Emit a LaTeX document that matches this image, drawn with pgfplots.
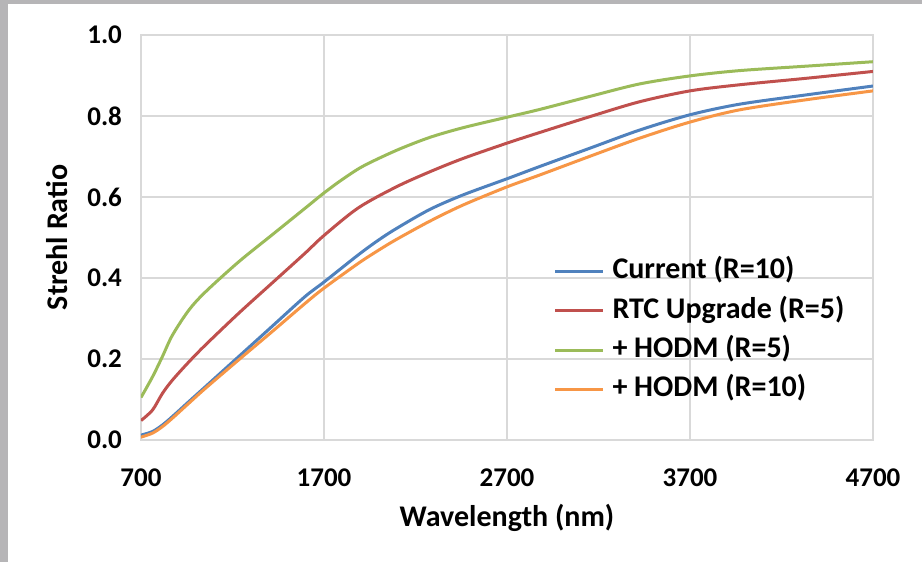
\documentclass[border=0pt]{standalone}
\usepackage{fontspec}
\setmainfont{Carlito}
\usepackage{pgfplots}
\pgfplotsset{compat=1.18}
\definecolor{xlblue}{RGB}{79,129,189}
\definecolor{xlred}{RGB}{192,80,77}
\definecolor{xlgreen}{RGB}{155,187,89}
\definecolor{xlorange}{RGB}{247,150,70}
\definecolor{gridgray}{RGB}{217,217,217}
\definecolor{framegray}{RGB}{182,181,183}

\begin{document}
\begin{tikzpicture}
% frame around the chart
\fill[framegray] (0,0) rectangle (461pt,281pt);
\fill[white] (4pt,0) rectangle (461pt,279pt);

\begin{axis}[
    at={(70.5pt,61pt)}, anchor=south west,
    scale only axis,
    width=366pt, height=202.5pt,
    xmin=700, xmax=4700,
    ymin=0, ymax=1,
    xtick={700,1700,2700,3700,4700},
    ytick={0,0.2,0.4,0.6,0.8,1.0},
    grid=major,
    grid style={gridgray, line width=0.75pt},
    axis line style={gridgray, line width=0.75pt},
    major tick length=0pt,
    tick style={draw=none},
    /pgf/number format/assume math mode=true,
    xticklabel style={font=\fontsize{13.5}{15}\selectfont\bfseries, anchor=center, yshift=-19pt,
        /pgf/number format/1000 sep={}},
    yticklabel style={font=\fontsize{13.5}{15}\selectfont\bfseries, anchor=east, xshift=-6pt,
        /pgf/number format/fixed, /pgf/number format/fixed zerofill, /pgf/number format/precision=1},
    xlabel={Wavelength (nm)},
    ylabel={Strehl Ratio},
    xlabel style={font=\fontsize{15}{17}\selectfont\bfseries, at={(axis description cs:0.5,-0.193)}, anchor=center},
    ylabel style={font=\fontsize{15}{17}\selectfont\bfseries, at={(axis description cs:-0.115,0.5)}, anchor=center},
    legend style={
        at={(0.563,0.456)}, anchor=north west,
        draw=none, fill=none, inner sep=0pt,
        font=\fontsize{15}{17}\selectfont\bfseries,
        nodes={inner sep=1pt, text height=10.5pt, text depth=3pt},
        row sep=4.2pt,
        /tikz/every odd column/.append style={column sep=3pt},
    },
    legend cell align=left,
    legend image code/.code={\draw[#1, line width=1.5pt] (0pt,0pt) -- (24pt,0pt);},
    every axis plot/.append style={line width=1.5pt, smooth},
]

% Current (R=10)
\addplot[xlblue] coordinates {
    (700,0.012) (763,0.021) (817,0.037) (872,0.058) (962,0.095)
    (1053,0.132) (1234,0.206) (1415,0.280) (1596,0.354) (1700,0.390)
    (1887,0.457) (1996,0.493) (2095,0.522) (2277,0.569) (2459,0.605)
    (2700,0.645) (2877,0.675) (3150,0.720) (3423,0.765) (3700,0.803)
    (3969,0.829) (4333,0.852) (4700,0.874)
};
\addlegendentry{Current (R=10)}

% RTC Upgrade (R=5)
\addplot[xlred] coordinates {
    (700,0.048) (763,0.074) (817,0.115) (872,0.148) (962,0.193)
    (1053,0.235) (1234,0.313) (1415,0.387) (1596,0.461) (1700,0.505)
    (1887,0.573) (2095,0.625) (2277,0.662) (2459,0.695) (2700,0.733)
    (2877,0.759) (3150,0.798) (3423,0.835) (3700,0.862) (3969,0.877)
    (4333,0.893) (4700,0.910)
};
\addlegendentry{RTC Upgrade (R=5)}

% + HODM (R=5)
\addplot[xlgreen] coordinates {
    (700,0.105) (763,0.156) (817,0.206) (872,0.259) (962,0.321)
    (1053,0.366) (1234,0.440) (1415,0.506) (1596,0.572) (1700,0.610)
    (1796,0.642) (1913,0.676) (2095,0.715) (2277,0.747) (2459,0.771)
    (2700,0.797) (2877,0.816) (3150,0.848) (3423,0.879) (3700,0.899)
    (3969,0.912) (4333,0.923) (4700,0.934)
};
\addlegendentry{+ HODM (R=5)}

% + HODM (R=10)
\addplot[xlorange] coordinates {
    (700,0.007) (763,0.017) (817,0.033) (872,0.054) (962,0.091)
    (1053,0.128) (1234,0.198) (1415,0.267) (1596,0.337) (1700,0.375)
    (1887,0.436) (1996,0.468) (2095,0.495) (2277,0.540) (2459,0.580)
    (2700,0.625) (2877,0.654) (3150,0.700) (3423,0.745) (3700,0.785)
    (3969,0.815) (4333,0.840) (4700,0.862)
};
\addlegendentry{+ HODM (R=10)}

\end{axis}
\end{tikzpicture}
\end{document}
